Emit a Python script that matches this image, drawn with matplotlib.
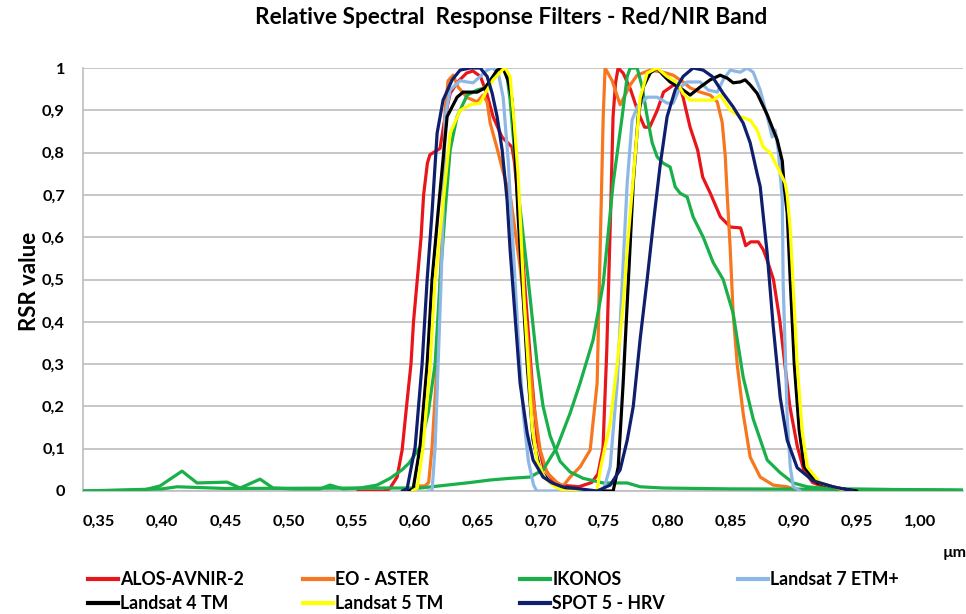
import matplotlib
matplotlib.use("Agg")
import matplotlib.pyplot as plt
from matplotlib import font_manager
from matplotlib.lines import Line2D

# ---------------- data ----------------
alos_wl = [0.555, 0.575, 0.580, 0.586, 0.590, 0.594, 0.597, 0.599, 0.602, 0.605, 0.607, 0.610, 0.612, 0.618, 0.620,
           0.624, 0.628, 0.634, 0.641, 0.646, 0.652, 0.657, 0.662, 0.669, 0.677, 0.679, 0.681, 0.685, 0.689, 0.693,
           0.697, 0.702, 0.709, 0.715, 0.730, 0.740, 0.745, 0.749, 0.752, 0.755, 0.757, 0.759, 0.761, 0.765, 0.771,
           0.777, 0.782, 0.786, 0.792, 0.797, 0.805, 0.810, 0.8125, 0.818, 0.824, 0.828, 0.834, 0.842, 0.850, 0.858,
           0.862, 0.866, 0.872, 0.876, 0.879, 0.884, 0.889, 0.893, 0.897, 0.903, 0.908, 0.915, 0.927, 0.95]
alos_val = [0, 0, 0.005, 0.033, 0.097, 0.215, 0.30, 0.40, 0.50, 0.60, 0.70, 0.775, 0.795, 0.806, 0.81,
            0.885, 0.94, 0.967, 0.988, 0.993, 0.98, 0.94, 0.885, 0.837, 0.813, 0.775, 0.71, 0.57, 0.41, 0.255,
            0.12, 0.057, 0.026, 0.014, 0.01, 0.02, 0.04, 0.10, 0.33, 0.65, 0.885, 0.965, 1.0, 0.988, 0.948,
            0.894, 0.86, 0.86, 0.90, 0.943, 0.96, 0.955, 0.93, 0.86, 0.806, 0.742, 0.704, 0.648, 0.624, 0.622,
            0.58, 0.589, 0.589, 0.57, 0.546, 0.50, 0.404, 0.30, 0.20, 0.104, 0.05, 0.02, 0.006, 0]

aster_wl = [0.598, 0.603, 0.608, 0.611, 0.6137, 0.6177, 0.6201, 0.6225, 0.6240, 0.6264, 0.6304, 0.6343, 0.6415,
            0.6494, 0.6541, 0.6573, 0.6597, 0.6652, 0.6700, 0.676, 0.6834, 0.6890, 0.6937, 0.6993, 0.7048, 0.7127,
            0.7175, 0.7230, 0.7309, 0.7389, 0.7444, 0.7468, 0.7492, 0.7507, 0.7563, 0.7626, 0.7706, 0.7761, 0.7864,
            0.7967, 0.8046, 0.8125, 0.8181, 0.8260, 0.8339, 0.8395, 0.8434, 0.8458, 0.8474, 0.8497, 0.8521, 0.8553,
            0.8600, 0.8656, 0.8735, 0.8838, 0.8949, 0.905]
aster_val = [0, 0.012, 0.012, 0.02, 0.104, 0.30, 0.50, 0.66, 0.90, 0.97, 0.983, 0.955, 0.93,
             0.92, 0.936, 0.92, 0.87, 0.81, 0.754, 0.69, 0.53, 0.37, 0.215, 0.097, 0.043, 0.02,
             0.012, 0.033, 0.057, 0.097, 0.255, 0.57, 0.885, 1.0, 0.97, 0.913, 0.96, 0.983, 0.995,
             0.99, 0.983, 0.967, 0.953, 0.943, 0.936, 0.92, 0.872, 0.794, 0.70, 0.577, 0.42, 0.30,
             0.184, 0.08, 0.033, 0.014, 0.01, 0]

ikonos_red_wl = [0.337, 0.385, 0.3983, 0.4157, 0.4276, 0.4514, 0.4617, 0.4775, 0.4878, 0.5036, 0.5250, 0.5329,
                 0.5432, 0.5567, 0.5701, 0.5805, 0.5899, 0.5955, 0.6042, 0.6106, 0.6161, 0.6201, 0.6240, 0.6280,
                 0.6335, 0.6415, 0.6494, 0.6557, 0.6597, 0.6660, 0.6700, 0.6731, 0.6755, 0.6811, 0.6898, 0.6969,
                 0.7016, 0.7072, 0.7151, 0.7230, 0.7333, 0.7492, 0.7682, 0.7785, 0.7967, 0.85, 0.95, 1.034]
ikonos_red_val = [0, 0.002, 0.012, 0.047, 0.019, 0.021, 0.007, 0.028, 0.007, 0.005, 0.005, 0.014,
                  0.005, 0.007, 0.014, 0.03, 0.05, 0.066, 0.104, 0.184, 0.30, 0.50, 0.66, 0.806,
                  0.885, 0.936, 0.948, 0.953, 0.97, 0.995, 1.0, 0.98, 0.924, 0.728, 0.5, 0.30,
                  0.2, 0.13, 0.07, 0.045, 0.03, 0.019, 0.019, 0.01, 0.007, 0.005, 0.004, 0.002]

ikonos_nir_wl = [0.337, 0.40, 0.4118, 0.45, 0.5646, 0.6042, 0.6438, 0.6597, 0.6755, 0.6913, 0.7016, 0.7127, 0.7230,
                 0.7309, 0.7412, 0.7492, 0.7571, 0.7642, 0.7682, 0.7706, 0.7761, 0.7801, 0.7840, 0.7880, 0.7919,
                 0.7967, 0.8022, 0.8062, 0.8101, 0.8157, 0.8204, 0.8284, 0.8363, 0.8442, 0.8521, 0.8600, 0.8680,
                 0.8791, 0.8894, 0.8997, 0.9108, 0.929, 1.034]
ikonos_nir_val = [0, 0.005, 0.01, 0.006, 0.007, 0.007, 0.02, 0.026, 0.03, 0.033, 0.05, 0.104, 0.184,
                  0.255, 0.357, 0.49, 0.728, 0.885, 0.98, 1.0, 1.0, 0.955, 0.885, 0.823, 0.79,
                  0.775, 0.766, 0.719, 0.704, 0.695, 0.648, 0.60, 0.54, 0.50, 0.42, 0.27, 0.17,
                  0.073, 0.043, 0.019, 0.01, 0.005, 0.002]

etm7_wl = [0.61, 0.6137, 0.6161, 0.6185, 0.6209, 0.6225, 0.6240, 0.6280, 0.6359, 0.6414, 0.6462, 0.6518, 0.6573,
           0.6613, 0.6660, 0.6700, 0.6740, 0.6780, 0.6820, 0.6860, 0.6900, 0.6940, 0.6965, 0.7492, 0.7547, 0.7603,
           0.7642, 0.7682, 0.7721, 0.7761, 0.7840, 0.7919, 0.7998, 0.8046, 0.8101, 0.8157, 0.8260, 0.8323, 0.8395,
           0.8442, 0.8498, 0.8577, 0.8632, 0.8680, 0.8735, 0.8791, 0.8830, 0.8854, 0.8878, 0.8910, 0.8917, 0.8933,
           0.8949, 0.8973, 0.8997, 0.9052]
etm7_val = [0, 0.0, 0.104, 0.30, 0.50, 0.66, 0.885, 0.948, 0.97, 0.967, 0.965, 0.98, 0.995,
            1.0, 0.99, 0.93, 0.78, 0.57, 0.36, 0.18, 0.07, 0.015, 0, 0, 0.057, 0.255,
            0.49, 0.728, 0.877, 0.908, 0.931, 0.931, 0.917, 0.917, 0.955, 0.967, 0.967, 0.948, 0.943,
            0.972, 0.995, 0.99, 1.0, 0.99, 0.948, 0.885, 0.837, 0.853, 0.806, 0.688, 0.49, 0.333,
            0.175, 0.057, 0.01, 0]

tm4_wl = [0.595, 0.5987, 0.6042, 0.6098, 0.6137, 0.6185, 0.6256, 0.6335, 0.6383, 0.6494, 0.6557, 0.6597, 0.6652,
          0.6700, 0.6739, 0.6771, 0.6795, 0.6818, 0.6850, 0.6890, 0.6937, 0.6993, 0.7072, 0.7151, 0.74, 0.7571,
          0.7611, 0.7650, 0.7690, 0.7730, 0.7769, 0.7809, 0.7864, 0.7919, 0.7967, 0.8022, 0.8101, 0.8181, 0.8260,
          0.8339, 0.8418, 0.8474, 0.8521, 0.8577, 0.8616, 0.8656, 0.8711, 0.8790, 0.8870, 0.8910, 0.8925, 0.8949,
          0.8973, 0.9005, 0.9044, 0.9084, 0.9187, 0.935, 0.95]
tm4_val = [0, 0.005, 0.104, 0.30, 0.50, 0.66, 0.885, 0.931, 0.943, 0.943, 0.953, 0.97, 0.995,
           1.0, 0.97, 0.924, 0.80, 0.65, 0.5, 0.3, 0.12, 0.05, 0.02, 0.008, 0.0, 0.0,
           0.057, 0.255, 0.49, 0.728, 0.885, 0.955, 0.988, 1.0, 0.983, 0.967, 0.953, 0.936, 0.955,
           0.972, 0.983, 0.976, 0.965, 0.967, 0.972, 0.96, 0.94, 0.89, 0.83, 0.78, 0.72, 0.657,
           0.5, 0.30, 0.144, 0.057, 0.019, 0.007, 0]

tm5_wl = [0.598, 0.6019, 0.6066, 0.6122, 0.6161, 0.6217, 0.6280, 0.6359, 0.6438, 0.6517, 0.6573, 0.6620, 0.6692,
          0.6716, 0.6755, 0.6787, 0.6818, 0.6842, 0.6866, 0.6898, 0.6929, 0.6969, 0.7032, 0.7111, 0.7190, 0.7444,
          0.7468, 0.7547, 0.7603, 0.7650, 0.7690, 0.7730, 0.7761, 0.7785, 0.7840, 0.7919, 0.7998, 0.8078, 0.8125,
          0.8181, 0.8363, 0.8418, 0.8498, 0.8577, 0.8656, 0.8711, 0.8759, 0.8814, 0.8894, 0.8933, 0.8949, 0.8973,
          0.8997, 0.9028, 0.9068, 0.9108, 0.9210, 0.9369, 0.945]
tm5_val = [0, 0.007, 0.104, 0.30, 0.5, 0.66, 0.846, 0.9, 0.913, 0.917, 0.948, 0.972, 0.995,
           1.0, 0.98, 0.87, 0.75, 0.6, 0.45, 0.3, 0.15, 0.07, 0.03, 0.01, 0, 0,
           0.05, 0.16, 0.30, 0.44, 0.60, 0.74, 0.85, 0.93, 0.988, 1.0, 0.98, 0.965, 0.94,
           0.924, 0.924, 0.936, 0.9, 0.885, 0.877, 0.853, 0.813, 0.80, 0.752, 0.728, 0.70, 0.62,
           0.48, 0.30, 0.14, 0.057, 0.019, 0.005, 0]

spot5_wl = [0.59, 0.5939, 0.6003, 0.6058, 0.6098, 0.6137, 0.6177, 0.6224, 0.6296, 0.6359, 0.6438, 0.6518, 0.6573,
            0.6613, 0.6652, 0.6692, 0.6731, 0.6755, 0.6795, 0.6834, 0.6890, 0.6937, 0.7016, 0.7088, 0.7167, 0.7444,
            0.7547, 0.7626, 0.7682, 0.7730, 0.7785, 0.7840, 0.7888, 0.7943, 0.7998, 0.8062, 0.8125, 0.8204, 0.8284,
            0.8355, 0.8442, 0.8521, 0.8600, 0.8656, 0.8711, 0.8735, 0.8791, 0.8838, 0.8894, 0.8949, 0.9028, 0.9155,
            0.9313, 0.9472]
spot5_val = [0, 0.005, 0.104, 0.30, 0.5, 0.66, 0.846, 0.924, 0.972, 0.995, 1.0, 1.0, 0.98,
             0.94, 0.885, 0.806, 0.688, 0.57, 0.41, 0.255, 0.137, 0.073, 0.033, 0.019, 0.01, 0,
             0.014, 0.05, 0.12, 0.20, 0.36, 0.50, 0.63, 0.77, 0.885, 0.948, 0.98, 1.0, 0.995,
             0.98, 0.94, 0.908, 0.87, 0.823, 0.75, 0.72, 0.56, 0.39, 0.22, 0.12, 0.055, 0.024,
             0.01, 0]

x_ticks = [0.35, 0.40, 0.45, 0.50, 0.55, 0.60, 0.65, 0.70, 0.75, 0.80, 0.85, 0.90, 0.95, 1.00]
x_tick_labels = ["0,35", "0,40", "0,45", "0,50", "0,55", "0,60", "0,65", "0,70", "0,75", "0,80", "0,85",
                 "0,90", "0,95", "1,00"]
y_ticks = [0, 0.1, 0.2, 0.3, 0.4, 0.5, 0.6, 0.7, 0.8, 0.9, 1.0]
y_tick_labels = ["0", "0,1", "0,2", "0,3", "0,4", "0,5", "0,6", "0,7", "0,8", "0,9", "1"]

title = "Relative Spectral  Response Filters - Red/NIR Band"
y_label = "RSR value"
x_unit = "µm"

# ---------------- styling ----------------
available = {f.name for f in font_manager.fontManager.ttflist}
FONT = "Liberation Sans Narrow" if "Liberation Sans Narrow" in available else "Lato"
plt.rcParams["font.family"] = [FONT, "DejaVu Sans"]
plt.rcParams["font.weight"] = "bold"

C_RED = "#E8161B"
C_ORANGE = "#F7761E"
C_GREEN = "#19B04A"
C_LBLUE = "#8DB8E6"
C_BLACK = "#000000"
C_YELLOW = "#FFFF00"
C_NAVY = "#0F1F6E"
LW = 2.3

fig = plt.figure(figsize=(9.66, 6.14), dpi=100)
ax = fig.add_axes([83 / 966, 1 - 491 / 614, 880 / 966, 423 / 614])

series = [
    (alos_wl, alos_val, C_RED, "ALOS-AVNIR-2"),
    (aster_wl, aster_val, C_ORANGE, "EO - ASTER"),
    (ikonos_red_wl, ikonos_red_val, C_GREEN, "IKONOS"),
    (ikonos_nir_wl, ikonos_nir_val, C_GREEN, None),
    (etm7_wl, etm7_val, C_LBLUE, "Landsat 7 ETM+"),
    (tm4_wl, tm4_val, C_BLACK, "Landsat 4 TM"),
    (tm5_wl, tm5_val, C_YELLOW, "Landsat 5 TM"),
    (spot5_wl, spot5_val, C_NAVY, "SPOT 5 - HRV"),
]
handles = {}
for i, (wl, val, col, lab) in enumerate(series):
    ln, = ax.plot(wl, val, color=col, lw=LW, solid_joinstyle="round", solid_capstyle="round", zorder=3 + i)
    if lab:
        handles[lab] = ln

ax.set_xlim(0.3373, 1.0341)
ax.set_ylim(0, 1)
ax.set_xticks(x_ticks)
ax.set_xticklabels(x_tick_labels)
ax.set_yticks(y_ticks)
ax.set_yticklabels(y_tick_labels)
ax.tick_params(axis="both", length=0, labelsize=11.8)
ax.tick_params(axis="x", pad=17)
ax.tick_params(axis="y", pad=13)
for t in ax.get_xticklabels() + ax.get_yticklabels():
    t.set_fontweight("bold")
ax.grid(axis="y", color="#BEBEBE", lw=1.2, zorder=0)
ax.set_axisbelow(True)
for s in ["top", "right"]:
    ax.spines[s].set_visible(False)
for s in ["left", "bottom"]:
    ax.spines[s].set_color("#BEBEBE")
    ax.spines[s].set_linewidth(1.2)

fig.text(511 / 966, 1 - 18 / 614, title, ha="center", va="center", fontsize=16.3, fontweight="bold")
fig.text(30 / 966, 1 - 281 / 614, y_label, ha="center", va="center", rotation=90, fontsize=16,
         fontweight="bold")
fig.text(955 / 966, 1 - 553 / 614, x_unit, ha="center", va="center", fontsize=11.5, fontweight="bold")

# legend: 4 columns, filled row-wise like the original
columns = [
    (88, ["ALOS-AVNIR-2", "Landsat 4 TM"]),
    (303, ["EO - ASTER", "Landsat 5 TM"]),
    (520, ["IKONOS", "SPOT 5 - HRV"]),
    (738, ["Landsat 7 ETM+"]),
]
for x0, labs in columns:
    hs = [Line2D([], [], color=handles[l].get_color(), lw=3.0) for l in labs]
    leg = fig.legend(hs, labs, loc="upper left", bbox_to_anchor=(x0 / 966, 1 - 571 / 614),
                     frameon=False, fontsize=12.8, handlelength=1.7, handletextpad=0.12,
                     labelspacing=0.42, borderaxespad=0, borderpad=0)
    for t in leg.get_texts():
        t.set_fontweight("bold")

fig.savefig("out.png", dpi=100)
